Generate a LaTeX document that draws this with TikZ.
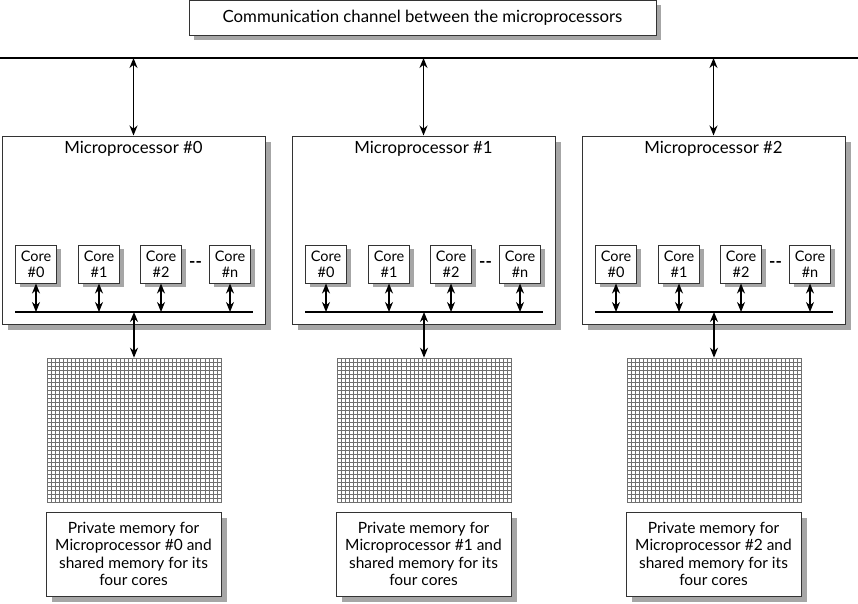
\documentclass[tikz,border=0pt]{standalone}
\usepackage{fontspec}
\setmainfont{Lato}
\usetikzlibrary{arrows.meta,calc,positioning,shadows}
\definecolor{Frame}{HTML}{333333}
\definecolor{Shade}{HTML}{A6A6A6}
\definecolor{Mesh}{HTML}{707070}

\begin{document}
\begin{tikzpicture}[
      x=1pt,y=-1pt,
      box/.style={draw=Frame,fill=white,line width=1pt,
        drop shadow={shadow xshift=#1,shadow yshift=-#1,fill=Shade,opacity=1}},
      box/.default=5pt,
      channel/.style={box,minimum width=467pt,minimum height=35pt,
        font=\fontsize{16.8}{19}\selectfont},
      cpu/.style={box=6pt,minimum width=263pt,minimum height=188pt},
      core/.style={box=4pt,minimum width=41pt,minimum height=38pt,inner sep=1pt,
        align=center,font=\fontsize{14.5}{16}\selectfont},
      memlabel/.style={box=6pt,minimum width=175pt,minimum height=84pt,
        align=center,font=\fontsize{15.5}{17.5}\selectfont},
      both/.style={{Stealth[length=10pt,width=8pt]}-{Stealth[length=10pt,width=8pt]},
        line width=1.3pt},
      bus/.style={line width=1.3pt},
      mesh/.style={draw=Mesh,line width=0.55pt}
    ]
      \useasboundingbox (0,0) rectangle (858,603);
      \node[channel] (chan) at (422.5,17.5) {Communication channel between the microprocessors};
      \coordinate (busL) at (0,58);
      \coordinate (busR) at (858,58);
      \draw[bus] (busL) -- (busR);
      \foreach \i in {0,1,2}{
        \pgfmathsetmacro\dx{290*\i}
        % microprocessor with its cores
        \node[cpu] (mp\i) at (133.5+\dx,230) {};
        \node[font=\fontsize{16.8}{19}\selectfont,below=2pt of mp\i.north] (mptitle\i) {Microprocessor \#\i};
        \draw[both] (mp\i.north) -- (mp\i.north |- busL);
        \coordinate (ibL\i) at (15+\dx,312);
        \coordinate (ibR\i) at (253+\dx,312);
        \draw[bus] (ibL\i) -- (ibR\i);
        \foreach \c/\cx in {0/36,1/99,2/161,n/230}{
          \node[core] (core\i-\c) at (\cx+\dx,264) {Core\\\#\c};
          \draw[both] (core\i-\c.south) -- (core\i-\c.south |- ibL\i);
        }
        \node[font=\bfseries\fontsize{17}{18}\selectfont] (dash\i) at ($(core\i-2.east)!0.5!(core\i-n.west)$) {-{}-};
        % memory block
        \node[draw=Mesh,line width=0.6pt,minimum width=174pt,minimum height=144pt,inner sep=0pt] (mem\i) at (134+\dx,430) {};
        \foreach \g in {1,...,42}
          \draw[mesh] (47+\dx+\g*4.0465,358) -- ++(0,144);
        \foreach \g in {1,...,35}
          \draw[mesh] (47+\dx,358+\g*4) -- ++(174,0);
        \draw[both] (mem\i.north) -- (mem\i.north |- ibL\i);
        \node[memlabel] (memtext\i) at (133.5+\dx,554) {Private memory for\\Microprocessor \#\i{} and\\shared memory for its\\four cores};
      }
    \end{tikzpicture}
\end{document}
